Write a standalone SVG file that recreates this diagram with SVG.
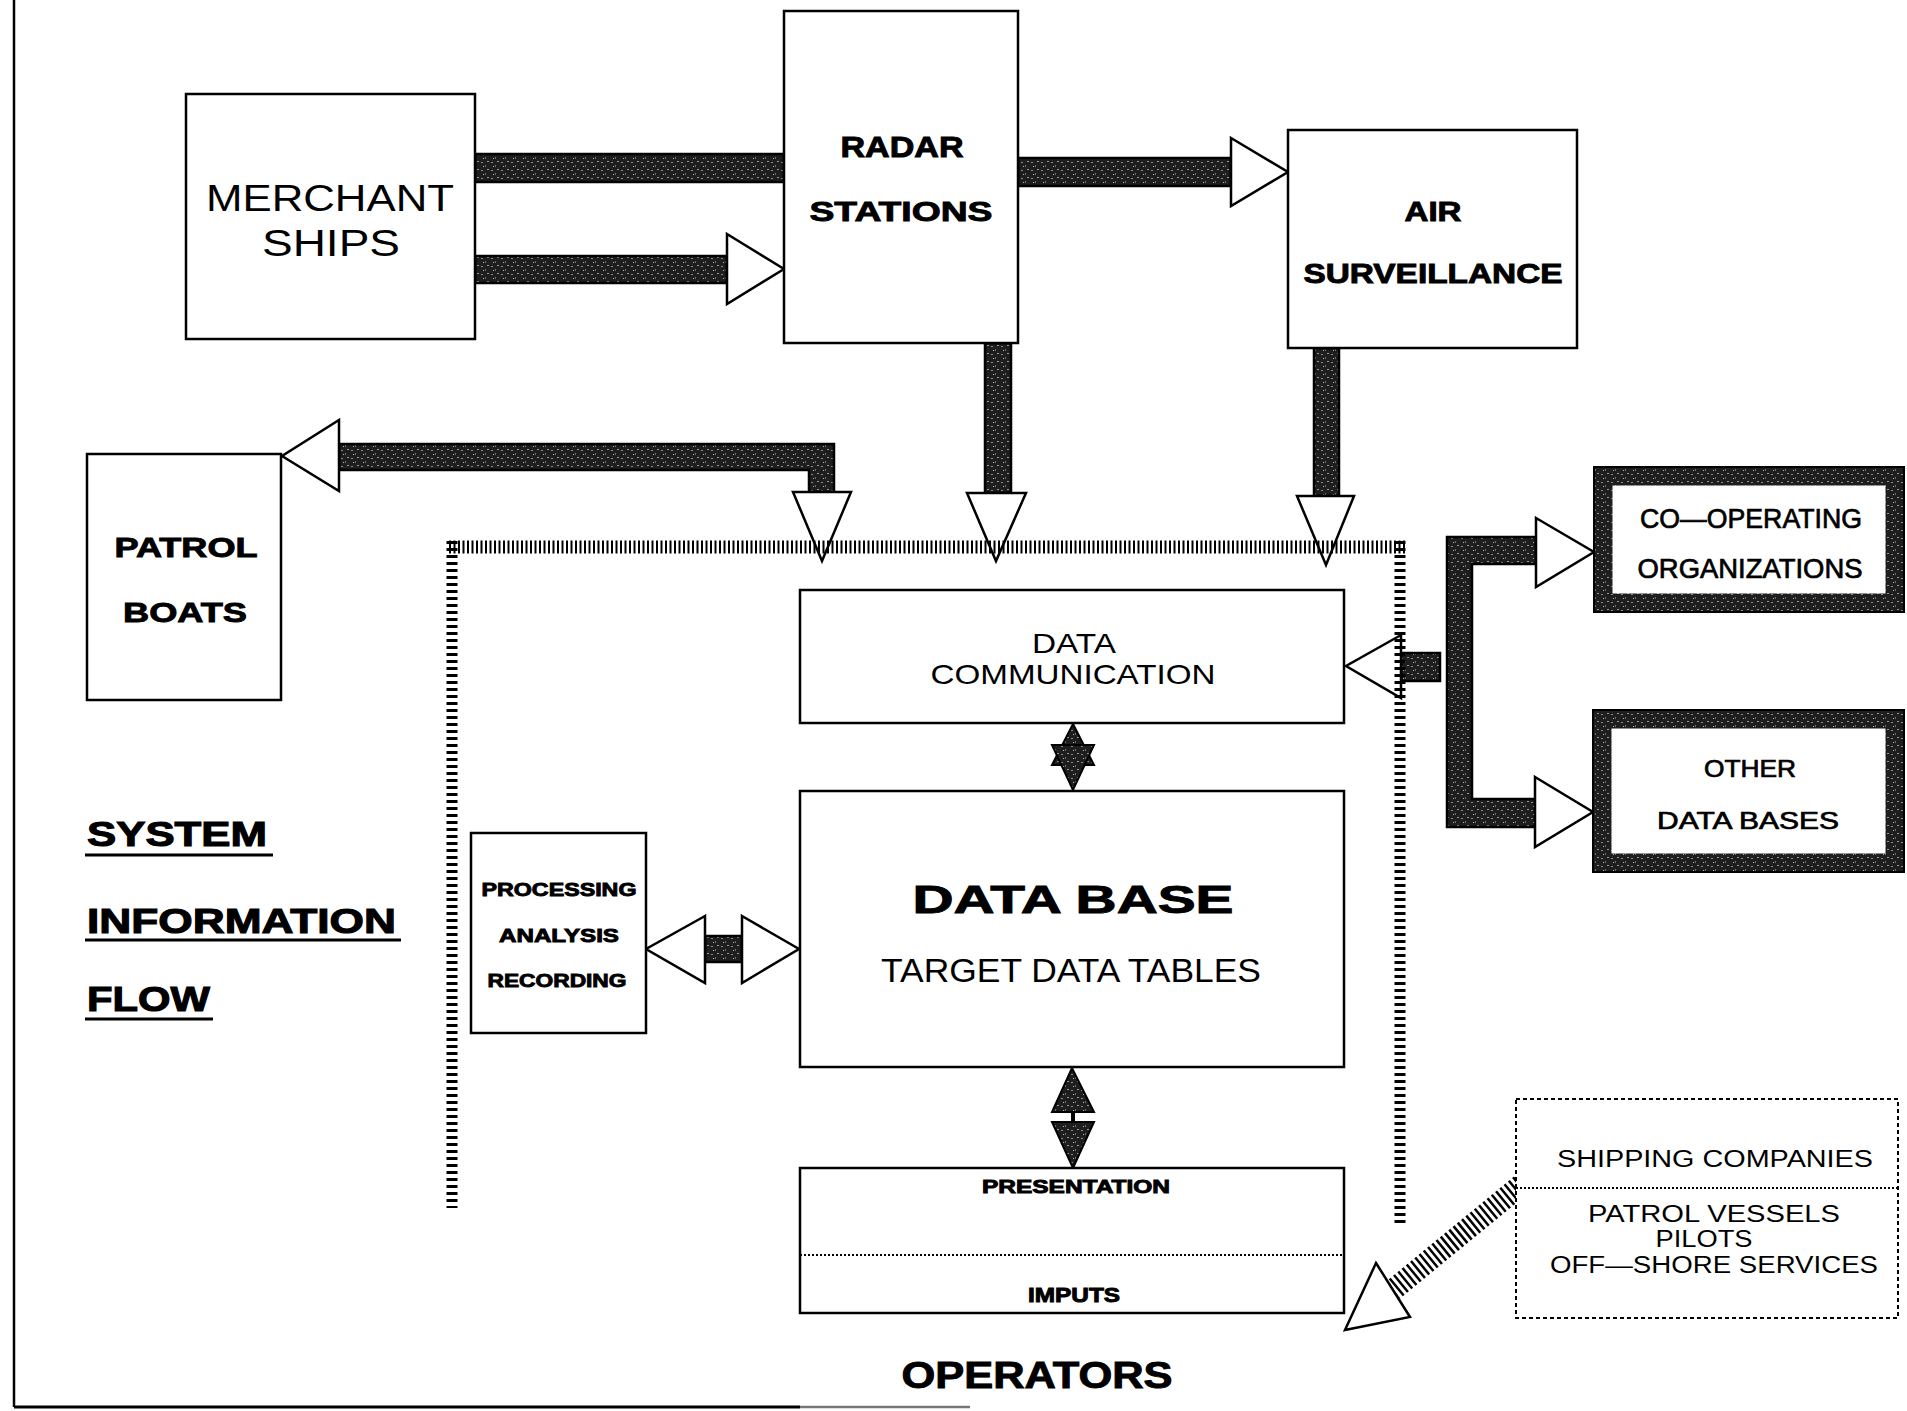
<svg xmlns="http://www.w3.org/2000/svg" width="1907" height="1411" viewBox="0 0 1907 1411">
<defs>
<pattern id="sp" width="10" height="8" patternUnits="userSpaceOnUse">
<rect width="10" height="8" fill="#1e1e1e"/>
<rect x="1" y="2" width="2" height="1" fill="#8a8a8a"/>
<rect x="5" y="5" width="1" height="2" fill="#6f6f6f"/>
<rect x="7" y="1" width="2" height="1" fill="#9a9a9a"/>
<rect x="3" y="6" width="1" height="1" fill="#bbbbbb"/>
</pattern>
<style>
.box{fill:#fff;stroke:#000;stroke-width:2.5}
.thick{fill:#fff;stroke:url(#sp);stroke-width:19}
.thickedge{fill:none;stroke:#000;stroke-width:2}
.bar{fill:url(#sp);stroke:#000;stroke-width:2.5}
.head{fill:#fff;stroke:#000;stroke-width:2.5;stroke-linejoin:miter}
.dhead{fill:url(#sp);stroke:#000;stroke-width:2}
.lt{font-family:"Liberation Sans",Arial,sans-serif;font-weight:normal;fill:#000;text-anchor:middle}
.md{font-family:"Liberation Sans",Arial,sans-serif;font-weight:normal;fill:#000;stroke:#000;stroke-width:0.7;text-anchor:middle}
.hv{font-family:"Liberation Sans",Arial,sans-serif;font-weight:bold;fill:#000;stroke:#000;stroke-width:0.9;text-anchor:middle}
.hvl{font-family:"Liberation Sans",Arial,sans-serif;font-weight:bold;fill:#000;stroke:#000;stroke-width:1.1}
.dot{fill:none;stroke:#000;stroke-width:2;stroke-dasharray:2 2}
.comb{fill:none;stroke:#000}
</style>
</defs>
<rect width="1907" height="1411" fill="#fff"/>

<g id="frame">
<line x1="14" y1="0" x2="14" y2="1407" stroke="#000" stroke-width="2.5"/>
<line x1="14" y1="1407" x2="800" y2="1407" stroke="#000" stroke-width="3"/>
<line x1="800" y1="1407" x2="970" y2="1407" stroke="#777" stroke-width="2.5"/>
</g>

<g id="connectors">
<!-- radar - merchant top bar -->
<rect class="bar" x="475" y="154" width="309" height="28"/>
<!-- merchant -> radar -->
<rect class="bar" x="475" y="256" width="252" height="27"/>
<polygon class="head" points="727,234 784,269 727,304"/>
<!-- radar -> air -->
<rect class="bar" x="1018" y="158" width="213" height="28"/>
<polygon class="head" points="1231,138 1288,172 1231,206"/>
<!-- radar down -->
<rect class="bar" x="985" y="343" width="26" height="150"/>
<polygon class="head" points="967,493 1026,493 996,561"/>
<!-- air down -->
<rect class="bar" x="1314" y="348" width="25" height="148"/>
<polygon class="head" points="1297,496 1354,496 1326,565"/>
<!-- to patrol boats / down to system -->
<path class="bar" d="M339,444 H834 V492 H809 V470 H339 Z"/>
<polygon class="head" points="339,420 339,491 282,456"/>
<polygon class="head" points="793,492 851,492 822,561"/>
<!-- co-operating / other branch -->
<path class="bar" d="M1447,537 H1536 V564 H1472 V799 H1536 V827 H1447 Z"/>
<polygon class="head" points="1536,518 1594,552 1536,587"/>
<polygon class="head" points="1535,777 1593,812 1535,847"/>
<rect class="bar" x="1401" y="653" width="39" height="28"/>
<polygon class="head" points="1401,635 1346,666 1401,698"/>
<!-- processing <-> data base -->
<rect class="bar" x="705" y="936" width="37" height="26"/>
<polygon class="head" points="705,916 646,949 705,983"/>
<polygon class="head" points="742,916 799,949 742,983"/>
<!-- data communication <-> data base -->
<polygon class="dhead" points="1073,724 1052,765 1094,765"/>
<polygon class="dhead" points="1073,790 1052,745 1094,745"/>
<!-- data base <-> presentation -->
<polygon class="dhead" points="1072,1068 1052,1112 1094,1112"/>
<line x1="1073" y1="1112" x2="1073" y2="1122" stroke="#000" stroke-width="4"/>
<polygon class="dhead" points="1052,1122 1094,1122 1073,1168"/>
<!-- shipping -> inputs -->
<line x1="1521" y1="1185" x2="1393" y2="1290" stroke="#000" stroke-width="22" stroke-dasharray="2.5 3"/>
<polygon class="head" points="1376,1263 1410,1317 1345,1330"/>
</g>

<g id="system-boundary">
<line class="comb" x1="449" y1="547" x2="1407" y2="547" stroke-width="13" stroke-dasharray="2 2.5"/>
<line class="comb" x1="452" y1="541" x2="452" y2="1208" stroke-width="11" stroke-dasharray="3 4"/>
<line class="comb" x1="1400" y1="541" x2="1400" y2="1226" stroke-width="11" stroke-dasharray="3 4"/>
</g>

<g id="merchant-ships">
<rect class="box" x="186" y="94" width="289" height="245"/>
<text class="lt" x="330" y="211" font-size="36" textLength="248" lengthAdjust="spacingAndGlyphs">MERCHANT</text>
<text class="lt" x="331" y="256" font-size="36" textLength="138" lengthAdjust="spacingAndGlyphs">SHIPS</text>
</g>

<g id="radar-stations">
<rect class="box" x="784" y="11" width="234" height="332"/>
<text class="hv" x="902" y="157" font-size="29" textLength="123" lengthAdjust="spacingAndGlyphs">RADAR</text>
<text class="hv" x="901" y="221" font-size="28" textLength="183" lengthAdjust="spacingAndGlyphs">STATIONS</text>
</g>

<g id="air-surveillance">
<rect class="box" x="1288" y="130" width="289" height="218"/>
<text class="hv" x="1433" y="221" font-size="27" textLength="57" lengthAdjust="spacingAndGlyphs">AIR</text>
<text class="hv" x="1433" y="283" font-size="27" textLength="259" lengthAdjust="spacingAndGlyphs">SURVEILLANCE</text>
</g>

<g id="patrol-boats">
<rect class="box" x="87" y="454" width="194" height="246"/>
<text class="hv" x="186" y="557" font-size="28" textLength="143" lengthAdjust="spacingAndGlyphs">PATROL</text>
<text class="hv" x="185" y="622" font-size="28" textLength="124" lengthAdjust="spacingAndGlyphs">BOATS</text>
</g>

<g id="co-operating-organizations">
<rect class="thick" x="1603" y="476" width="292" height="127"/>
<rect class="thickedge" x="1594" y="467" width="310" height="145"/>
<text class="md" x="1751" y="528" font-size="27" textLength="222" lengthAdjust="spacingAndGlyphs">CO—OPERATING</text>
<text class="md" x="1750" y="578" font-size="27" textLength="225" lengthAdjust="spacingAndGlyphs">ORGANIZATIONS</text>
</g>

<g id="other-data-bases">
<rect class="thick" x="1602" y="719" width="293" height="144"/>
<rect class="thickedge" x="1593" y="710" width="311" height="162"/>
<text class="md" x="1750" y="777" font-size="24" textLength="92" lengthAdjust="spacingAndGlyphs">OTHER</text>
<text class="md" x="1748" y="829" font-size="24" textLength="182" lengthAdjust="spacingAndGlyphs">DATA BASES</text>
</g>

<g id="data-communication">
<rect class="box" x="800" y="590" width="544" height="133"/>
<text class="lt" x="1074" y="653" font-size="28" textLength="84" lengthAdjust="spacingAndGlyphs">DATA</text>
<text class="lt" x="1073" y="684" font-size="28" textLength="285" lengthAdjust="spacingAndGlyphs">COMMUNICATION</text>
</g>

<g id="data-base">
<rect class="box" x="800" y="791" width="544" height="276"/>
<text class="hv" x="1073" y="913" font-size="39" textLength="321" lengthAdjust="spacingAndGlyphs">DATA  BASE</text>
<text class="lt" x="1071" y="982" font-size="33" textLength="380" lengthAdjust="spacingAndGlyphs">TARGET DATA TABLES</text>
</g>

<g id="processing">
<rect class="box" x="471" y="833" width="175" height="200"/>
<text class="hv" x="559" y="896" font-size="19" stroke-width="0.5" textLength="155" lengthAdjust="spacingAndGlyphs">PROCESSING</text>
<text class="hv" x="559" y="942" font-size="19" stroke-width="0.5" textLength="120" lengthAdjust="spacingAndGlyphs">ANALYSIS</text>
<text class="hv" x="557" y="987" font-size="19" stroke-width="0.5" textLength="139" lengthAdjust="spacingAndGlyphs">RECORDING</text>
</g>

<g id="presentation-inputs">
<rect class="box" x="800" y="1168" width="544" height="145"/>
<line class="dot" x1="800" y1="1255" x2="1344" y2="1255"/>
<text class="hv" x="1076" y="1193" font-size="18" stroke-width="0.8" textLength="188" lengthAdjust="spacingAndGlyphs">PRESENTATION</text>
<text class="hv" x="1074" y="1302" font-size="20" stroke-width="0.8" textLength="92" lengthAdjust="spacingAndGlyphs">IMPUTS</text>
</g>

<g id="operators">
<text class="hv" x="1037" y="1388" font-size="36" textLength="271" lengthAdjust="spacingAndGlyphs">OPERATORS</text>
</g>

<g id="shipping-companies">
<rect x="1516" y="1099" width="382" height="219" fill="#fff" stroke="#000" stroke-width="2" stroke-dasharray="4 3"/>
<line class="dot" x1="1516" y1="1188" x2="1898" y2="1188"/>
<text class="lt" x="1715" y="1167" font-size="23" textLength="316" lengthAdjust="spacingAndGlyphs">SHIPPING COMPANIES</text>
<text class="lt" x="1714" y="1222" font-size="23" textLength="252" lengthAdjust="spacingAndGlyphs">PATROL VESSELS</text>
<text class="lt" x="1704" y="1247" font-size="23" textLength="97" lengthAdjust="spacingAndGlyphs">PILOTS</text>
<text class="lt" x="1714" y="1273" font-size="23" textLength="328" lengthAdjust="spacingAndGlyphs">OFF—SHORE SERVICES</text>
</g>

<g id="title">
<text class="hvl" x="87" y="846" font-size="35" textLength="180" lengthAdjust="spacingAndGlyphs">SYSTEM</text>
<line x1="85" y1="855" x2="273" y2="855" stroke="#000" stroke-width="3"/>
<text class="hvl" x="87" y="933" font-size="35" textLength="309" lengthAdjust="spacingAndGlyphs">INFORMATION</text>
<line x1="85" y1="940" x2="401" y2="940" stroke="#000" stroke-width="3"/>
<text class="hvl" x="87" y="1011" font-size="35" textLength="123" lengthAdjust="spacingAndGlyphs">FLOW</text>
<line x1="85" y1="1019" x2="213" y2="1019" stroke="#000" stroke-width="3"/>
</g>
</svg>
